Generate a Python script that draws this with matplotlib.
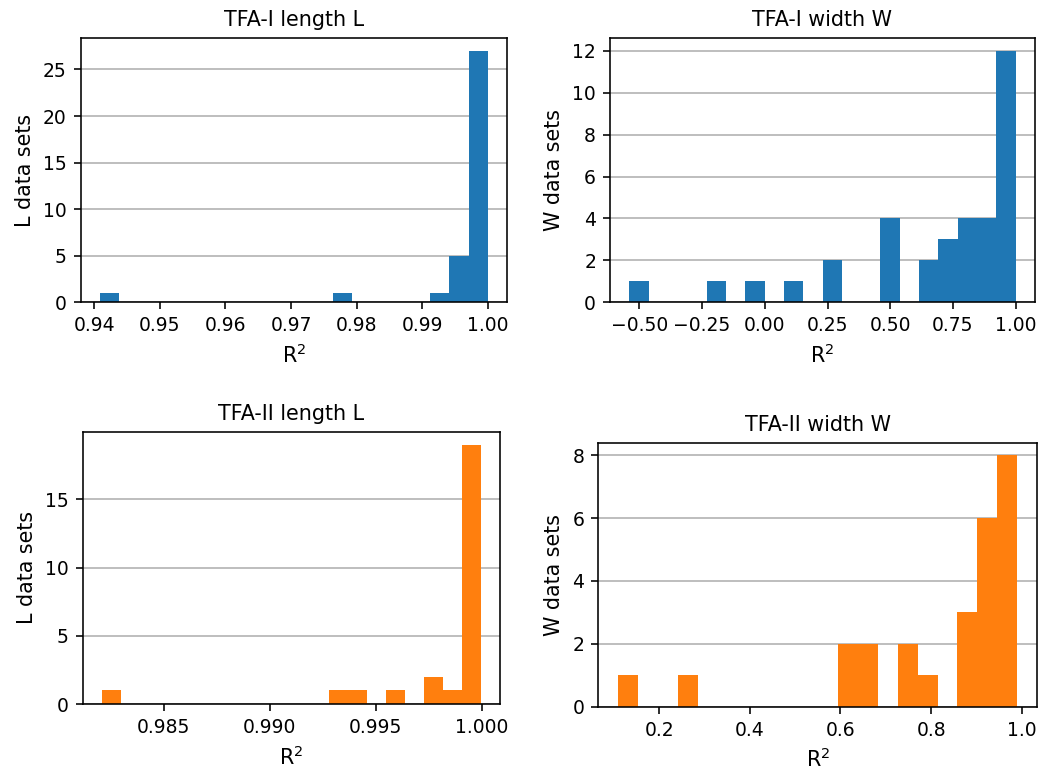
import numpy as np
import matplotlib
matplotlib.use("Agg")
import matplotlib.pyplot as plt
from matplotlib.ticker import MultipleLocator

# histogram counts (20 bins each)
tfa1_L_range = (0.9409, 1.0)
tfa1_L_counts = [1, 0, 0, 0, 0, 0, 0, 0, 0, 0, 0, 0, 1, 0, 0, 0, 0, 1, 5, 27]

tfa1_W_range = (-0.54, 1.0)
tfa1_W_counts = [1, 0, 0, 0, 1, 0, 1, 0, 1, 0, 2, 0, 0, 4, 0, 2, 3, 4, 4, 12]

tfa2_L_range = (0.98208, 0.99997)
tfa2_L_counts = [1, 0, 0, 0, 0, 0, 0, 0, 0, 0, 0, 0, 1, 1, 0, 1, 0, 2, 1, 19]

tfa2_W_range = (0.1095, 0.9904)
tfa2_W_counts = [1, 0, 0, 1, 0, 0, 0, 0, 0, 0, 0, 2, 2, 0, 2, 1, 0, 3, 6, 8]

plt.rcParams["axes.titlesize"] = 10.3
plt.rcParams["axes.labelsize"] = 10.3
plt.rcParams["xtick.labelsize"] = 9.4
plt.rcParams["ytick.labelsize"] = 9.4

W, H = 1042, 773
fig = plt.figure(figsize=(W / 144, H / 144), dpi=144)


def px_axes(left, right, top, bottom):
    return fig.add_axes([left / W, 1 - bottom / H, (right - left) / W, (bottom - top) / H])


panels = [
    (px_axes(80.7, 507.3, 38.3, 302.3), tfa1_L_range, tfa1_L_counts, "C0", "TFA-I length L", "L data sets", 5),
    (px_axes(610, 1035, 38.3, 302.3), tfa1_W_range, tfa1_W_counts, "C0", "TFA-I width W", "W data sets", 2),
    (px_axes(82.7, 500, 431.7, 704), tfa2_L_range, tfa2_L_counts, "C1", "TFA-II length L", "L data sets", 5),
    (px_axes(598.3, 1037.3, 442.7, 706.7), tfa2_W_range, tfa2_W_counts, "C1", "TFA-II width W", "W data sets", 2),
]

for ax, rng, counts, col, title, ylab, ystep in panels:
    edges = np.linspace(rng[0], rng[1], len(counts) + 1)
    ax.hist(edges[:-1], bins=edges, weights=counts, color=col)
    ax.yaxis.set_major_locator(MultipleLocator(ystep))
    ax.set_axisbelow(True)
    ax.grid(axis="y")
    ax.set_title(title)
    ax.set_ylabel(ylab)
    ax.set_xlabel("R$^2$")

fig.savefig("out.png", dpi=144)
